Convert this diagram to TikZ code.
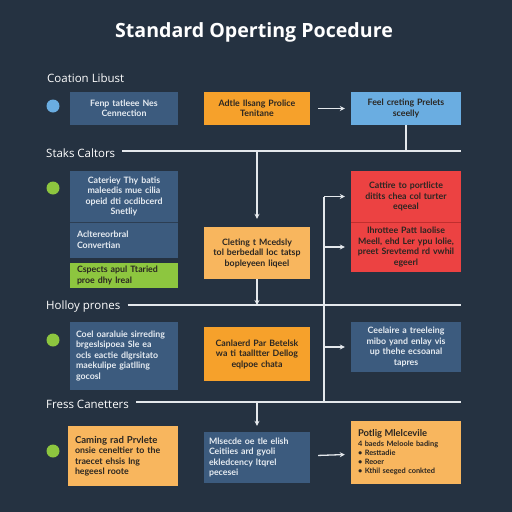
\documentclass[tikz,border=0pt]{standalone}
\usepackage{fontspec}
\setmainfont{Open Sans}
\newfontfamily\boxfont{Lato}
\usetikzlibrary{arrows.meta}
\definecolor{bg}{HTML}{253241}
\definecolor{dkb}{HTML}{3C5B7E}
\definecolor{ltb}{HTML}{6AADE1}
\definecolor{org}{HTML}{F6A12B}
\definecolor{lorg}{HTML}{F8B65E}
\definecolor{grn}{HTML}{8DC63F}
\definecolor{red}{HTML}{EC4242}
\definecolor{redd}{HTML}{C02E2E}
\definecolor{linec}{HTML}{E4E8EC}
\definecolor{dtxt}{HTML}{2A2622}
\definecolor{wtxt}{HTML}{E6ECF2}
\begin{document}
\begin{tikzpicture}[x=1pt,y=-1pt,
  box/.style={rectangle, inner sep=0pt, font=\boxfont\bfseries\fontsize{8.8}{10.5}\selectfont, align=center},
  dbox/.style={box, fill=dkb, text=wtxt},
  obox/.style={box, fill=org, text=dtxt},
  lobox/.style={box, fill=lorg, text=dtxt},
  rbox/.style={box, fill=red, text=dtxt},
  hdr/.style={anchor=west, text=white, font=\fontsize{11.5}{13}\selectfont, inner sep=0pt},
  dot/.style={circle, inner sep=0pt, minimum size=13pt},
  ln/.style={draw=linec, line width=1.3pt},
  arr/.style={ln, -{Stealth[length=5pt,width=5pt]}}]
\fill[bg] (0,0) rectangle (512,512);
\useasboundingbox (0,0) rectangle (512,512);

\node[text=white, font=\bfseries\fontsize{19.6}{22}\selectfont] (title) at (254,32) {Standard Operting Pocedure};

\node[hdr] (h1) at (47,78) {Coation Libust};
\node[hdr] (h2) at (46,153) {Staks Caltors};
\node[hdr] (h3) at (46,307) {Holloy prones};
\node[hdr] (h4) at (46,404) {Fress Canetters};

\node[dot, fill=ltb] (c1) at (53,106) {};
\node[dot, fill=grn] (c2) at (53,188) {};
\node[dot, fill=grn] (c3) at (53,340) {};
\node[dot, fill=grn] (c4) at (53,451) {};

% row 1
\node[dbox, minimum width=108pt, minimum height=33pt, text width=100pt] (b11) at (124,108.5) {Fenp tatleee Nes\\Cennection};
\node[obox, minimum width=106pt, minimum height=33pt, text width=100pt] (b12) at (257,108.5) {Adtle Ilsang Prolice\\Tenitane};
\node[box, fill=ltb, text=dtxt, minimum width=110pt, minimum height=33pt, text width=104pt] (b13) at (406,108.5) {Feel creting Prelets\\sceelly};

% row 2
\node[dbox, minimum width=108pt, minimum height=51pt, text width=100pt] (b21) at (124,196.5) {Cateriey Thy batis\\maleedis mue cilia\\opeid dti ocdibcerd\\Snetliy};
\node[dbox, minimum width=108pt, minimum height=36pt, text width=94pt, align=left] (b22) at (124,240) {Acltereorbral\\Convertian};
\draw[draw=bg!70!dkb, line width=0.6pt] (b21.south west) -- (b21.south east);
\node[box, fill=grn, text=dtxt, minimum width=108pt, minimum height=25pt, text width=94pt, align=left] (b23) at (124,275.5) {Cspects apul Ttaried\\proe dhy lreal};
\node[lobox, minimum width=106pt, minimum height=52pt, text width=102pt] (b24) at (257,253) {Cleting t Mcedsly\\tol berbedall loc tatsp\\bopleyeen liqeel};
\node[rbox, minimum width=110pt, minimum height=51pt, text width=106pt] (r1) at (406,196.5) {Cattire to portlicte\\ditits chea col turter\\eqeeal};
\node[rbox, minimum width=110pt, minimum height=50pt, text width=108pt] (r2) at (406,247) {Ihrottee Patt Iaolise\\Meell, ehd Ler ypu lolie,\\preet Srevtemd rd vwhil\\egeerl};
\draw[draw=redd, line width=0.8pt] (r1.south west) -- (r1.south east);

% row 3
\node[dbox, minimum width=108pt, minimum height=68pt, text width=96pt, align=left] (b31) at (124,356) {Coel oaraluie sirreding\\brgeslsipoea Sle ea\\ocls eactie dlgrsitato\\maekulipe giatlling\\gocosl};
\node[obox, minimum width=106pt, minimum height=54pt, text width=102pt] (b32) at (257,354) {Canlaerd Par Betelsk\\wa ti taalltter Dellog\\eqlpoe chata};
\node[dbox, minimum width=110pt, minimum height=50pt, text width=104pt] (b33) at (406,347) {Ceelaire a treeleing\\mibo yand enlay vis\\up thehe ecsoanal\\tapres};

% row 4
\node[lobox, minimum width=110pt, minimum height=60pt, text width=96pt, align=left] (b41) at (123,456) {{\fontsize{9.6}{10.5}\selectfont Caming rad Prvlete}\\onsie ceneltier to the\\traecet ehsis lng\\hegeesl roote};
\node[dbox, minimum width=106pt, minimum height=51pt, text width=96pt, align=left] (b42) at (257,457.5) {Mlsecde oe tle elish\\Ceitiies ard gyoli\\ekledcency ltqrel\\pecesei};
\node[lobox, minimum width=110pt, minimum height=63pt, text width=96pt, align=left, font=\boxfont\bfseries\fontsize{7.4}{9.2}\selectfont] (b43) at (406,452.5) {{\fontsize{9.4}{10.5}\selectfont Potlig Mlelcevile}\\4 baeds Meloole bading\\• Resttadie\\• Reoer\\• Kthil seeged conkted};

% connectors
\coordinate (e1) at (461,151);
\coordinate (e2) at (461,305);
\coordinate (e3) at (461,402);
\coordinate (sp1) at (324,196.5);
\coordinate (sp2) at (324,402);

\draw[arr, shorten <=8pt, shorten >=6pt] (b12) -- (b13);
\draw[ln] (b13.south) -- (b13.south |- e1);
\draw[ln] ([xshift=7pt]h2.east |- e1) -- (e1);
\draw[arr, shorten >=8pt] (b24.north |- e1) -- (b24.north);
\draw[arr] (b24.south) -- (b24.south |- e2);
\draw[ln] ([xshift=7pt]h3.east |- e2) -- (e2);
\draw[ln] (sp1) -- (sp2);
\draw[arr, shorten >=6pt] (sp1) -- (r1.west);
\draw[arr, shorten >=6pt] (sp1 |- r2.west) -- (r2.west);
\draw[arr, shorten >=6pt] (sp1 |- b33.west) -- (b33.west);
\draw[ln] ([xshift=7pt]h4.east |- e3) -- (e3);
\draw[arr, shorten >=6pt] (b42.north |- e3) -- (b42.north);
\draw[arr, shorten <=8pt, shorten >=6pt] (b42) -- (b43);
\end{tikzpicture}
\end{document}
